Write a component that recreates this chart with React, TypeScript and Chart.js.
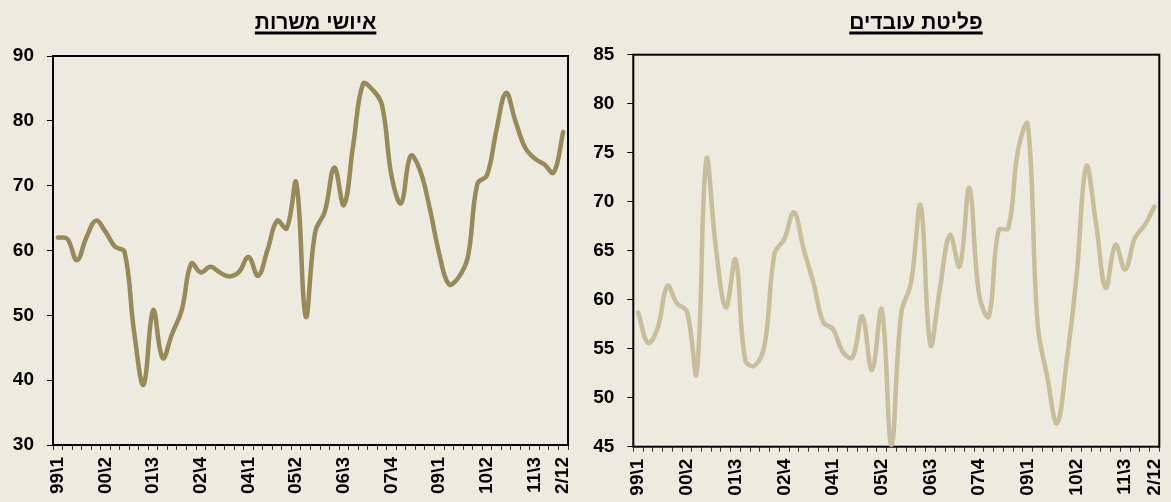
import React, { useEffect, useRef } from 'react';
import { Chart, registerables } from 'chart.js';

Chart.register(...registerables);

// Quarterly categories, 1999 Q1 – 2012 Q2
const QUARTERS = [
  "99\\1", "99\\2", "99\\3", "99\\4",
  "00\\1", "00\\2", "00\\3", "00\\4",
  "01\\1", "01\\2", "01\\3", "01\\4",
  "02\\1", "02\\2", "02\\3", "02\\4",
  "03\\1", "03\\2", "03\\3", "03\\4",
  "04\\1", "04\\2", "04\\3", "04\\4",
  "05\\1", "05\\2", "05\\3", "05\\4",
  "06\\1", "06\\2", "06\\3", "06\\4",
  "07\\1", "07\\2", "07\\3", "07\\4",
  "08\\1", "08\\2", "08\\3", "08\\4",
  "09\\1", "09\\2", "09\\3", "09\\4",
  "10\\1", "10\\2", "10\\3", "10\\4",
  "11\\1", "11\\2", "11\\3", "11\\4",
  "12\\1", "12\\2",
];

// Categories that carry a visible tick label, and the label shown there
const TICK_AT = ["99\\1", "00\\2", "01\\3", "02\\4", "04\\1", "05\\2", "06\\3", "07\\4", "09\\1", "10\\2", "11\\3", "12\\2"];
const TICK_LABELS = ["99\\1", "00\\2", "01\\3", "02\\4", "04\\1", "05\\2", "06\\3", "07\\4", "09\\1", "10\\2", "11\\3", "2/12"];

// איושי משרות (left panel)
const HIRES_TITLE = "איושי משרות";
const HIRES = [
  62.0, 61.8, 58.5, 62.0, 64.6, 62.9, 60.6, 59.8, 47.5, 39.3,
  50.8, 43.4, 47.2, 50.8, 58.0, 56.6, 57.5, 56.6, 56.0, 56.7,
  59.0, 56.1, 60.1, 64.6, 63.4, 70.5, 49.8, 62.9, 66.0, 72.8,
  67.0, 76.5, 85.7, 84.8, 82.4, 71.5, 67.3, 74.6, 72.3, 66.5,
  59.5, 54.8, 55.8, 59.0, 70.3, 71.6, 78.6, 84.3, 79.9, 75.9,
  74.2, 73.3, 72.0, 78.3,
];
const HIRES_Y = { min: 30, max: 90, step: 10 };

// פליטת עובדים (right panel)
const SEPARATIONS_TITLE = "פליטת עובדים";
const SEPARATIONS = [
  58.7, 55.6, 57.1, 61.4, 59.6, 58.8, 52.5, 74.3, 65.1, 59.2,
  64.1, 53.8, 53.3, 55.5, 64.7, 66.2, 68.9, 65.1, 61.7, 57.7,
  57.0, 54.7, 54.1, 58.3, 52.8, 59.0, 45.2, 58.6, 61.7, 69.6,
  55.4, 61.3, 66.6, 63.4, 71.4, 60.5, 58.3, 67.1, 67.3, 75.3,
  77.9, 57.6, 52.1, 47.4, 53.8, 62.3, 73.6, 67.8, 61.2, 65.6,
  63.1, 66.3, 67.6, 69.5,
];
const SEPARATIONS_Y = { min: 45, max: 85, step: 5 };

const BG = '#EDEAE0';
const FONT_FAMILY = '"Liberation Sans", Arial, sans-serif';

type PanelProps = {
  title: string;
  values: number[];
  color: string;
  y: { min: number; max: number; step: number };
  left: number;
  width: number;
  height: number;
  area: { left: number; right: number; top: number; bottom: number };
  titleX: number;
};

function Panel(props: PanelProps) {
  const ref = useRef<HTMLCanvasElement | null>(null);

  useEffect(() => {
    const canvas = ref.current;
    if (!canvas) return;
    const { area, width, height, title, titleX } = props;

    const framePlugin = {
      id: 'frame',
      beforeDatasetsDraw(chart: any) {
        const { ctx, chartArea: a } = chart;
        ctx.save();
        ctx.strokeStyle = '#000';
        ctx.lineWidth = 2;
        ctx.strokeRect(a.left, a.top, a.right - a.left, a.bottom - a.top);
        ctx.restore();
      },
    };

    const titlePlugin = {
      id: 'underlinedTitle',
      afterDraw(chart: any) {
        const ctx = chart.ctx;
        ctx.save();
        ctx.font = `bold 21px ${FONT_FAMILY}`;
        ctx.fillStyle = '#000';
        ctx.textAlign = 'center';
        ctx.textBaseline = 'alphabetic';
        ctx.fillText(title, titleX, 29);
        const w = ctx.measureText(title).width;
        ctx.fillRect(titleX - w / 2, 31.5, w, 3);
        ctx.restore();
      },
    };

    const chart = new Chart(canvas, {
      type: 'line',
      data: {
        labels: QUARTERS,
        datasets: [
          {
            data: props.values,
            borderColor: props.color,
            borderWidth: 4.5,
            tension: 0.4,
            pointRadius: 0,
            fill: false,
            clip: false as any,
            borderCapStyle: 'round',
            borderJoinStyle: 'round',
          },
        ],
      },
      options: {
        responsive: false,
        maintainAspectRatio: false,
        animation: false,
        layout: {
          padding: { left: 0, top: area.top, right: width - area.right, bottom: 0 },
        },
        plugins: {
          legend: { display: false },
          tooltip: { enabled: false },
          title: { display: false },
        },
        scales: {
          x: {
            type: 'category',
            offset: true,
            border: { display: false },
            grid: {
              offset: true,
              drawOnChartArea: false,
              drawTicks: true,
              tickLength: 5,
              color: '#333',
              lineWidth: 1,
            },
            ticks: {
              autoSkip: false,
              maxRotation: 90,
              minRotation: 90,
              padding: 7,
              color: '#000',
              font: { family: FONT_FAMILY, size: 19, weight: 'bold' },
              callback: (_v: any, i: number) => {
                const k = TICK_AT.indexOf(QUARTERS[i]);
                return k >= 0 ? TICK_LABELS[k] : '';
              },
            },
            afterFit: (s: any) => {
              s.height = height - area.bottom;
              s.paddingLeft = 0;
              s.paddingRight = 0;
            },
          },
          y: {
            min: props.y.min,
            max: props.y.max,
            border: { display: false },
            grid: {
              drawOnChartArea: false,
              drawTicks: true,
              tickLength: 6,
              color: '#000',
              lineWidth: 1,
            },
            ticks: {
              stepSize: props.y.step,
              padding: 13,
              color: '#000',
              font: { family: FONT_FAMILY, size: 19, weight: 'bold' },
            },
            afterFit: (s: any) => {
              s.width = area.left;
              s.paddingTop = 0;
              s.paddingBottom = 0;
            },
          },
        },
      } as any,
      plugins: [framePlugin, titlePlugin],
    });

    return () => chart.destroy();
  }, []);

  return (
    <canvas
      ref={ref}
      width={props.width}
      height={props.height}
      style={{ position: 'absolute', left: props.left, top: 0, width: props.width, height: props.height }}
    />
  );
}

export default function App() {
  return (
    <div
      style={{
        position: 'absolute',
        left: 0,
        top: 0,
        width: 1171,
        height: 502,
        background: BG,
        overflow: 'hidden',
      }}
    >
      <Panel
        title={HIRES_TITLE}
        values={HIRES}
        color="#968B58"
        y={HIRES_Y}
        left={0}
        width={585}
        height={502}
        area={{ left: 53, right: 568, top: 56, bottom: 445 }}
        titleX={315.6}
      />
      <Panel
        title={SEPARATIONS_TITLE}
        values={SEPARATIONS}
        color="#C7BE9B"
        y={SEPARATIONS_Y}
        left={585}
        width={586}
        height={502}
        area={{ left: 48.3, right: 574.3, top: 54.7, bottom: 446.7 }}
        titleX={331}
      />
    </div>
  );
}
